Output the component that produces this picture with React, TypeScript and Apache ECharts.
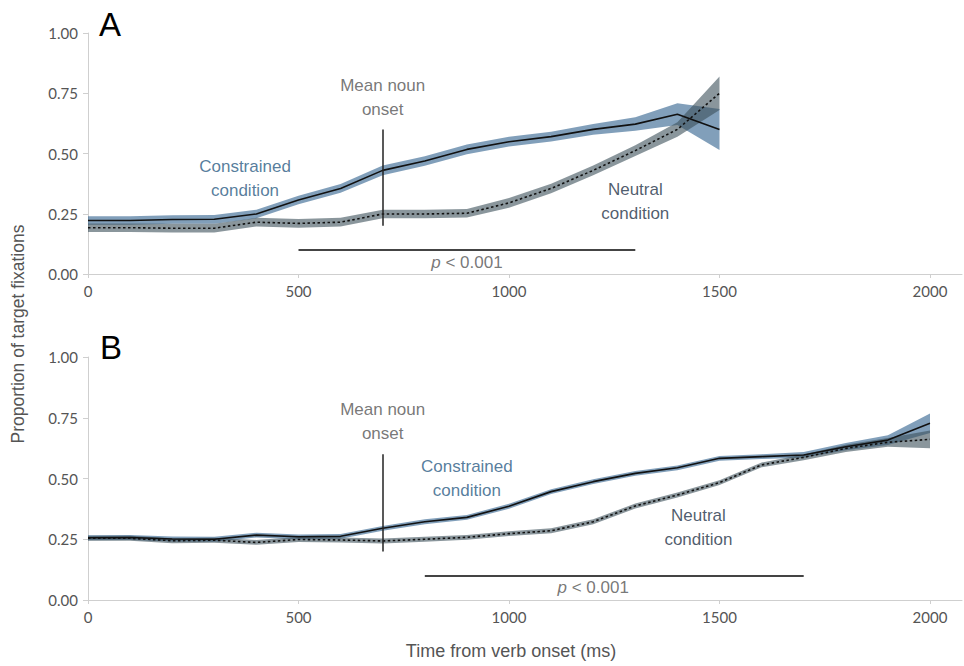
import React, { useEffect, useRef } from "react";
import * as echarts from "echarts";

// Time bins (ms from verb onset)
const timesA = [0, 100, 200, 300, 400, 500, 600, 700, 800, 900, 1000, 1100, 1200, 1300, 1400, 1500];
const timesB = [0, 100, 200, 300, 400, 500, 600, 700, 800, 900, 1000, 1100, 1200, 1300, 1400, 1500, 1600, 1700, 1800, 1900, 2000];

// Panel A: mean proportion of target fixations and CI half-widths
const constrainedA = [0.222, 0.222, 0.226, 0.227, 0.249, 0.307, 0.355, 0.43, 0.469, 0.517, 0.549, 0.57, 0.6, 0.622, 0.663, 0.6];
const constrainedCiA = [0.018, 0.018, 0.018, 0.018, 0.018, 0.018, 0.018, 0.02, 0.02, 0.02, 0.02, 0.02, 0.022, 0.028, 0.045, 0.085];
const neutralA = [0.192, 0.192, 0.19, 0.19, 0.215, 0.21, 0.215, 0.249, 0.249, 0.252, 0.295, 0.355, 0.43, 0.512, 0.6, 0.75];
const neutralCiA = [0.018, 0.018, 0.018, 0.018, 0.018, 0.018, 0.018, 0.018, 0.018, 0.018, 0.02, 0.02, 0.02, 0.022, 0.03, 0.07];

// Panel B
const constrainedB = [0.256, 0.257, 0.251, 0.25, 0.267, 0.26, 0.262, 0.295, 0.322, 0.34, 0.386, 0.446, 0.487, 0.521, 0.544, 0.583, 0.59, 0.597, 0.631, 0.658, 0.727];
const constrainedCiB = [0.01, 0.01, 0.01, 0.01, 0.01, 0.01, 0.01, 0.01, 0.01, 0.01, 0.01, 0.01, 0.01, 0.01, 0.01, 0.01, 0.01, 0.012, 0.015, 0.02, 0.04];
const neutralB = [0.254, 0.254, 0.244, 0.246, 0.237, 0.249, 0.247, 0.243, 0.25, 0.258, 0.273, 0.285, 0.322, 0.387, 0.432, 0.483, 0.556, 0.587, 0.624, 0.649, 0.661];
const neutralCiB = [0.01, 0.01, 0.01, 0.01, 0.01, 0.01, 0.01, 0.01, 0.01, 0.01, 0.01, 0.01, 0.01, 0.01, 0.01, 0.01, 0.01, 0.012, 0.015, 0.018, 0.037];

// Annotations
const nounOnset = 700;
const onsetLineRange = [0.2, 0.6];
const sigWindowA = [500, 1300];
const sigWindowB = [800, 1700];
const sigLevel = 0.1;

const GRAY = "#555";
const AXIS = "#cfcfcf";
const BLUE_TEXT = "#2b5b83";
const NAVY_TEXT = "#1f3347";
const C_BAND = "rgba(45,95,140,0.6)";
const N_BAND = "rgba(60,80,90,0.6)";
const TICK_FONT = "Lato, 'Open Sans', sans-serif";
const TEXT_FONT = "'Liberation Sans', Arial, sans-serif";

// Confidence band drawn as one polygon: upper edge left-to-right, lower edge back.
function bandSeries(times: number[], mean: number[], ci: number[], color: string, axis: number) {
  return {
    type: "custom",
    xAxisIndex: axis,
    yAxisIndex: axis,
    silent: true,
    data: [[times[0], mean[0]]],
    z: 1,
    renderItem: (_params: any, api: any) => {
      const upper = times.map((t, i) => api.coord([t, mean[i] + ci[i]]));
      const lower = times.map((t, i) => api.coord([t, mean[i] - ci[i]])).reverse();
      return {
        type: "polygon",
        shape: { points: upper.concat(lower) },
        style: { fill: color, stroke: "none" },
      };
    },
  };
}

function meanLine(times: number[], mean: number[], dotted: boolean, axis: number, extra: any = {}) {
  return {
    type: "line",
    xAxisIndex: axis,
    yAxisIndex: axis,
    data: times.map((t, i) => [t, mean[i]]),
    symbol: "none",
    lineStyle: { color: "#111", width: 1.6, type: dotted ? [2.5, 2.5] : "solid" },
    z: 3,
    ...extra,
  };
}

function markLines(sig: number[]) {
  return {
    silent: true,
    symbol: ["none", "none"],
    label: { show: false },
    data: [
      [
        { coord: [nounOnset, onsetLineRange[0]], lineStyle: { color: "#222", width: 1.5, type: "solid" } },
        { coord: [nounOnset, onsetLineRange[1]] },
      ],
      [
        { coord: [sig[0], sigLevel], lineStyle: { color: "#444", width: 2.2, type: "solid" } },
        { coord: [sig[1], sigLevel] },
      ],
    ],
  };
}

function textPoint(x: number, y: number, text: string, color: string) {
  return {
    value: [x, y],
    label: {
      show: true,
      position: "inside",
      formatter: text,
      color,
      fontFamily: TEXT_FONT,
      fontSize: 17,
      lineHeight: 24,
      align: "center",
    },
  };
}

function annotations(axis: number, items: any[]) {
  return {
    type: "scatter",
    xAxisIndex: axis,
    yAxisIndex: axis,
    symbolSize: 0,
    silent: true,
    data: items,
    z: 5,
  };
}

function pLabel(x: number, y: number) {
  return {
    value: [x, y],
    label: {
      show: true,
      position: "inside",
      formatter: "{i|p} < 0.001",
      color: GRAY,
      fontFamily: TEXT_FONT,
      fontSize: 17,
      rich: { i: { fontStyle: "italic", fontFamily: TEXT_FONT, fontSize: 17, color: GRAY } },
    },
  };
}

export default function App() {
  const ref = useRef<HTMLDivElement>(null);

  useEffect(() => {
    if (!ref.current) return;
    const chart = echarts.init(ref.current, undefined, { renderer: "svg" });

    const mainX = (gridIndex: number) => ({
      type: "value",
      gridIndex,
      min: 0,
      max: 2000,
      interval: 500,
      axisLine: { show: false },
      axisTick: { show: true, length: 4, lineStyle: { color: AXIS } },
      splitLine: { show: false },
      axisLabel: {
        color: GRAY,
        fontSize: 15,
        fontFamily: TICK_FONT,
        margin: 9,
        formatter: (v: number) => String(v),
      },
    });
    const lineX = (gridIndex: number) => ({
      type: "value",
      gridIndex,
      min: 0,
      max: 1,
      axisLine: { show: true, lineStyle: { color: AXIS, width: 1 } },
      axisTick: { show: false },
      axisLabel: { show: false },
      splitLine: { show: false },
    });
    const mainY = (gridIndex: number) => ({
      type: "value",
      gridIndex,
      min: 0,
      max: 1,
      interval: 0.25,
      axisLine: { show: true, lineStyle: { color: AXIS, width: 1 } },
      axisTick: { show: true, length: 5, lineStyle: { color: AXIS } },
      splitLine: { show: false },
      axisLabel: {
        color: GRAY,
        fontSize: 15,
        fontFamily: TICK_FONT,
        margin: 10,
        formatter: (v: number) => v.toFixed(2),
      },
    });
    const hiddenY = (gridIndex: number) => ({ type: "value", gridIndex, show: false, min: 0, max: 1 });

    chart.setOption({
      animation: false,
      backgroundColor: "#fff",
      grid: [
        { left: 88, right: 34, top: 33, height: 241 },
        { left: 88, right: 2, top: 33, height: 241 },
        { left: 88, right: 34, top: 357, height: 243 },
        { left: 88, right: 2, top: 357, height: 243 },
      ],
      xAxis: [mainX(0), lineX(1), mainX(2), lineX(3)],
      yAxis: [mainY(0), hiddenY(1), mainY(2), hiddenY(3)],
      series: [
        bandSeries(timesA, constrainedA, constrainedCiA, C_BAND, 0),
        bandSeries(timesA, neutralA, neutralCiA, N_BAND, 0),
        meanLine(timesA, constrainedA, false, 0, { markLine: markLines(sigWindowA) }),
        meanLine(timesA, neutralA, true, 0),
        annotations(0, [
          textPoint(700, 0.734, "Mean noun\nonset", GRAY),
          textPoint(373, 0.398, "Constrained\ncondition", BLUE_TEXT),
          textPoint(1300, 0.3, "Neutral\ncondition", NAVY_TEXT),
          pLabel(900, 0.046),
        ]),
        bandSeries(timesB, constrainedB, constrainedCiB, C_BAND, 2),
        bandSeries(timesB, neutralB, neutralCiB, N_BAND, 2),
        meanLine(timesB, constrainedB, false, 2, { markLine: markLines(sigWindowB) }),
        meanLine(timesB, neutralB, true, 2),
        annotations(2, [
          textPoint(700, 0.733, "Mean noun\nonset", GRAY),
          textPoint(900, 0.498, "Constrained\ncondition", BLUE_TEXT),
          textPoint(1450, 0.3, "Neutral\ncondition", NAVY_TEXT),
          pLabel(1200, 0.053),
        ]),
      ],
      graphic: [
        {
          type: "text",
          left: 99,
          top: 8,
          style: { text: "A", fontSize: 33, fontFamily: TEXT_FONT, fill: "#000" },
        },
        {
          type: "text",
          left: 100,
          top: 331,
          style: { text: "B", fontSize: 33, fontFamily: TEXT_FONT, fill: "#000" },
        },
        {
          type: "text",
          x: 18,
          y: 334,
          rotation: Math.PI / 2,
          style: {
            text: "Proportion of target fixations",
            fontSize: 17.5,
            fontFamily: TEXT_FONT,
            fill: GRAY,
            align: "center",
            verticalAlign: "middle",
          },
        },
        {
          type: "text",
          x: 511,
          y: 651,
          style: {
            text: "Time from verb onset (ms)",
            fontSize: 18,
            fontFamily: TEXT_FONT,
            fill: GRAY,
            align: "center",
            verticalAlign: "middle",
          },
        },
      ],
    });

    return () => chart.dispose();
  }, []);

  return <div ref={ref} style={{ width: 964, height: 666, position: "absolute", left: 0, top: 0 }} />;
}
